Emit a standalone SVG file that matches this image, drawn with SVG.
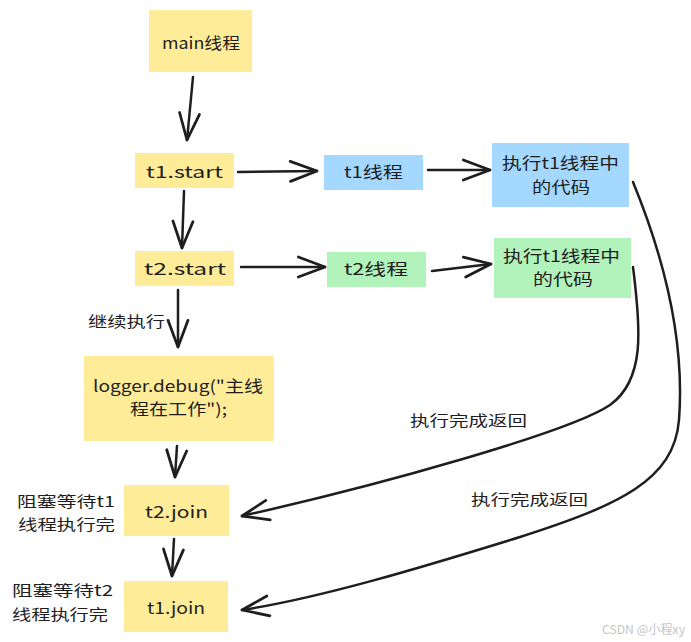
<svg xmlns="http://www.w3.org/2000/svg" width="691" height="642" viewBox="0 0 691 642">
  <style>
    .yellow { fill: #ffec99; }
    .blue { fill: #a5d8ff; }
    .green { fill: #b2f2bb; }
    text { font-family: "Noto Sans CJK SC", "Noto Sans", sans-serif; font-size: 16px; fill: #1e1e1e; dominant-baseline: central; }
    .lbl { font-size: 15px; }
    .mark { font-size: 12px; fill: #c4c4c4; }
    .edge { fill: none; stroke: #1e1e1e; stroke-width: 2.5; stroke-linecap: round; stroke-linejoin: round; marker-end: url(#head); }
  </style>
  <defs>
    <marker id="head" markerUnits="userSpaceOnUse" markerWidth="40" markerHeight="40" viewBox="-30 -15 36 30" refX="0" refY="0" orient="auto">
      <path d="M-24,-9 L0,0 L-24,9" fill="none" stroke="#1e1e1e" stroke-width="2.5" stroke-linecap="round" stroke-linejoin="round"/>
    </marker>
  </defs>

  <rect width="691" height="642" fill="#ffffff"/>

  <!-- connectors -->
  <g id="edges">
    <path class="edge" d="M193,77 L187,140"/>
    <path class="edge" d="M184,191 L182,248"/>
    <path class="edge" d="M178,290 L178,347"/>
    <path class="edge" d="M177,446 L175,477"/>
    <path class="edge" d="M174,539 L172,576"/>
    <path class="edge" d="M238,172 L317,171"/>
    <path class="edge" d="M428,170 L490,170"/>
    <path class="edge" d="M241,267 L325,267"/>
    <path class="edge" d="M432,271 L491,264"/>
    <path class="edge" d="M633,267 C641,330 645,380 610,405 C570,432 380,485 242,516"/>
    <path class="edge" d="M633,182 C665,260 685,340 679,420 C674,480 620,505 520,537 C420,568 320,598 242,610"/>
  </g>

  <!-- nodes -->
  <g id="main">
    <rect class="yellow" x="149" y="10" width="103" height="62"/>
    <text x="162" y="42" textLength="78" lengthAdjust="spacingAndGlyphs">main线程</text>
  </g>
  <g id="t1start">
    <rect class="yellow" x="135" y="153" width="99" height="35"/>
    <text x="146" y="171" textLength="77" lengthAdjust="spacingAndGlyphs">t1.start</text>
  </g>
  <g id="t1thread">
    <rect class="blue" x="324" y="155" width="99" height="35"/>
    <text x="344" y="171" textLength="59" lengthAdjust="spacingAndGlyphs">t1线程</text>
  </g>
  <g id="t1code">
    <rect class="blue" x="492" y="143" width="137" height="64"/>
    <text x="502" y="162" textLength="117" lengthAdjust="spacingAndGlyphs">执行t1线程中</text>
    <text x="532" y="186" textLength="58" lengthAdjust="spacingAndGlyphs">的代码</text>
  </g>
  <g id="t2start">
    <rect class="yellow" x="135" y="251" width="99" height="35"/>
    <text x="144" y="268" textLength="82" lengthAdjust="spacingAndGlyphs">t2.start</text>
  </g>
  <g id="t2thread">
    <rect class="green" x="327" y="252" width="99" height="35"/>
    <text x="344" y="268" textLength="64" lengthAdjust="spacingAndGlyphs">t2线程</text>
  </g>
  <g id="t2code">
    <rect class="green" x="494" y="238" width="137" height="60"/>
    <text x="503" y="255" textLength="117" lengthAdjust="spacingAndGlyphs">执行t1线程中</text>
    <text x="533" y="278" textLength="60" lengthAdjust="spacingAndGlyphs">的代码</text>
  </g>
  <g id="logger">
    <rect class="yellow" x="84" y="356" width="190" height="85"/>
    <text x="93" y="385" textLength="170" lengthAdjust="spacingAndGlyphs">logger.debug("主线</text>
    <text x="130" y="408" textLength="97" lengthAdjust="spacingAndGlyphs">程在工作");</text>
  </g>
  <g id="t2join">
    <rect class="yellow" x="124" y="485" width="105" height="51"/>
    <text x="145" y="511" textLength="63" lengthAdjust="spacingAndGlyphs">t2.join</text>
  </g>
  <g id="t1join">
    <rect class="yellow" x="124" y="581" width="104" height="51"/>
    <text x="147" y="607" textLength="58" lengthAdjust="spacingAndGlyphs">t1.join</text>
  </g>

  <!-- free labels -->
  <g id="labels">
    <text class="lbl" x="88" y="320" textLength="77" lengthAdjust="spacingAndGlyphs">继续执行</text>
    <text class="lbl" x="17" y="500" textLength="98" lengthAdjust="spacingAndGlyphs">阻塞等待t1</text>
    <text class="lbl" x="18" y="523" textLength="97" lengthAdjust="spacingAndGlyphs">线程执行完</text>
    <text class="lbl" x="12" y="589" textLength="101" lengthAdjust="spacingAndGlyphs">阻塞等待t2</text>
    <text class="lbl" x="12" y="613" textLength="96" lengthAdjust="spacingAndGlyphs">线程执行完</text>
    <text class="lbl" x="410" y="419" textLength="117" lengthAdjust="spacingAndGlyphs">执行完成返回</text>
    <text class="lbl" x="471" y="498" textLength="117" lengthAdjust="spacingAndGlyphs">执行完成返回</text>
    <text class="mark" x="602" y="628" textLength="83" lengthAdjust="spacingAndGlyphs">CSDN @小程xy</text>
  </g>
</svg>
